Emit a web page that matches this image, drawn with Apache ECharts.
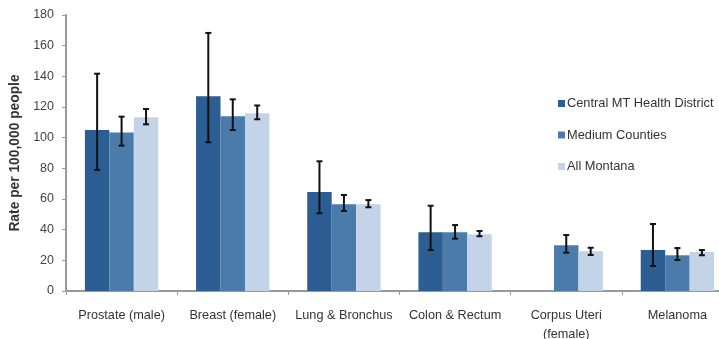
<!DOCTYPE html>
<html><head><meta charset="utf-8">
<script src="https://cdn.jsdelivr.net/npm/echarts@6/dist/echarts.min.js"></script>
<style>html,body{margin:0;padding:0;background:#fff}#c{width:719px;height:339px}</style>
</head><body><div id="c"></div>
<script>
var categories = ['Prostate (male)', 'Breast (female)', 'Lung & Bronchus', 'Colon & Rectum', 'Corpus Uteri\n(female)', 'Melanoma'];
var seriesNames = ['Central MT Health District', 'Medium Counties', 'All Montana'];
var centralVals = [105, 127, 64.5, 38.3, null, 26.7];
var centralLow  = [79, 97, 50.7, 26.7, null, 16.3];
var centralHigh = [141.7, 168.3, 84.6, 55.6, null, 43.7];
var mediumVals  = [103.3, 114, 56.5, 38.3, 29.8, 23.3];
var mediumLow   = [94.8, 105, 52.2, 34.1, 25, 20.2];
var mediumHigh  = [113.7, 125, 62.6, 43, 36.5, 28];
var allVals     = [113.3, 116, 56.5, 37, 26, 25.4];
var allLow      = [108.7, 112, 54.6, 35.7, 23.5, 23.3];
var allHigh     = [118.7, 121, 59.3, 39.1, 28.2, 26.7];
var yTicks = [0, 20, 40, 60, 80, 100, 120, 140, 160, 180];
var colors = ['#2d5e93', '#4a7bab', '#c3d4e8'];

var vals = [centralVals, mediumVals, allVals];
var lows = [centralLow, mediumLow, allLow];
var highs = [centralHigh, mediumHigh, allHigh];
var gapFrac = 0.34;

function errSeries(idx) {
  var data = [];
  for (var i = 0; i < categories.length; i++) {
    if (lows[idx][i] != null) data.push([i, lows[idx][i], highs[idx][i]]);
  }
  return {
    type: 'custom',
    name: seriesNames[idx] + ' err',
    z: 10,
    silent: true,
    clip: false,
    renderItem: function (params, api) {
      var ci = api.value(0);
      var lo = api.coord([ci, api.value(1)]);
      var hi = api.coord([ci, api.value(2)]);
      var catW = api.size([1, 0])[0];
      var bw = catW * (1 - gapFrac) / 3;
      var x = lo[0] + (idx - 1) * bw;
      var cap = 3;
      var st = { stroke: '#111', lineWidth: 2 };
      return { type: 'group', children: [
        { type: 'line', shape: { x1: x, y1: hi[1], x2: x, y2: lo[1] }, style: st },
        { type: 'line', shape: { x1: x - cap, y1: hi[1], x2: x + cap, y2: hi[1] }, style: st },
        { type: 'line', shape: { x1: x - cap, y1: lo[1], x2: x + cap, y2: lo[1] }, style: st }
      ]};
    },
    encode: { x: 0, y: [1, 2] },
    data: data
  };
}

var series = [];
for (var s = 0; s < 3; s++) {
  series.push({
    type: 'bar', name: seriesNames[s], data: vals[s],
    barGap: '0%', barCategoryGap: (gapFrac * 100) + '%',
    itemStyle: { color: colors[s] }
  });
}
for (var s2 = 0; s2 < 3; s2++) series.push(errSeries(s2));

var chart = echarts.init(document.getElementById('c'));
chart.setOption({
  animation: false,
  backgroundColor: '#fff',
  textStyle: { fontFamily: 'Liberation Sans, Arial, sans-serif' },
  grid: { left: 66, width: 667, top: 15, height: 276, containLabel: false, outerBoundsMode: 'none' },
  legend: {
    data: seriesNames,
    orient: 'vertical',
    left: 553, top: 92,
    itemWidth: 7, itemHeight: 7, itemGap: 18.5, icon: 'rect',
    textStyle: { fontSize: 12.8, color: '#333', padding: [0, 0, 0, -3] }
  },
  xAxis: {
    type: 'category', data: categories,
    axisLine: { lineStyle: { color: '#999', width: 2 } },
    axisTick: { show: true, length: 4, lineStyle: { color: '#999' } },
    axisLabel: { fontSize: 12.7, color: '#333', margin: 15, interval: 0, lineHeight: 19 }
  },
  yAxis: {
    type: 'value', min: 0, max: 180, interval: 20,
    name: 'Rate per 100,000 people', nameLocation: 'middle', nameGap: 43, nameRotate: 90,
    nameTextStyle: { fontSize: 13.8, fontWeight: 'bold', color: '#333' },
    axisLine: { show: true, lineStyle: { color: '#999', width: 2 } },
    axisTick: { show: true, length: 4, lineStyle: { color: '#999' } },
    splitLine: { show: false },
    axisLabel: { fontSize: 12.5, color: '#444', margin: 12,
      formatter: function (v) { return yTicks.indexOf(v) >= 0 ? String(v) : ''; } }
  },
  series: series
});
</script></body></html>
